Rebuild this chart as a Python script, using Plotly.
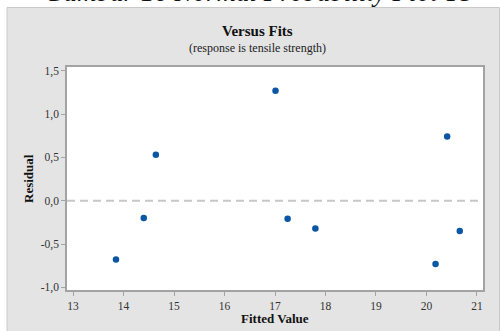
import plotly.graph_objects as go

# Residuals versus fitted values
fitted = [13.85, 14.40, 14.64, 17.01, 17.25, 17.80, 20.18, 20.41, 20.66]
residual = [-0.68, -0.20, 0.53, 1.27, -0.21, -0.32, -0.73, 0.74, -0.35]

x_ticks = [13, 14, 15, 16, 17, 18, 19, 20, 21]
y_ticks = [-1.0, -0.5, 0.0, 0.5, 1.0, 1.5]
y_tick_text = ["-1,0", "-0,5", "0,0", "0,5", "1,0", "1,5"]

W, H = 500, 331
L, R, T, B = 67, 17, 67, 41
PW, PH = W - L - R, H - T - B


def px(x):
    return (x - L) / PW


def py(y):
    return (H - B - y) / PH


SERIF = "Liberation Serif, Times New Roman, serif"

fig = go.Figure()
fig.add_trace(go.Scatter(
    x=fitted, y=residual, mode="markers",
    marker=dict(color="#0b56a4", size=6.5, line=dict(width=0)),
    hoverinfo="x+y",
))

shapes = [
    # grey panel behind the chart
    dict(type="rect", xref="paper", yref="paper",
         x0=px(7), x1=px(499.5), y0=py(332), y1=py(7.5),
         fillcolor="#e4e4e4", line=dict(color="#c9c9c9", width=1), layer="below"),
    # white plotting area
    dict(type="rect", xref="paper", yref="paper", x0=0, x1=1, y0=0, y1=1,
         fillcolor="white", line=dict(width=0), layer="below"),
    # zero reference line
    dict(type="line", xref="paper", yref="y", x0=0, x1=1, y0=0, y1=0,
         line=dict(color="#c6c6c6", width=2, dash="8px,5px"), layer="below"),
]

annotations = [
    dict(text="<i>Gambar 16 Normal Probability Plot TS</i>", xref="paper", yref="paper",
         x=px(258), y=py(9.5), xanchor="center", yanchor="bottom", showarrow=False,
         font=dict(family=SERIF, size=27, color="#111111")),
    dict(text="<b>Versus Fits</b>", xref="paper", yref="paper",
         x=px(257), y=py(31), xanchor="center", yanchor="middle", showarrow=False,
         font=dict(family=SERIF, size=15, color="#111111")),
    dict(text="(response is tensile strength)", xref="paper", yref="paper",
         x=px(257), y=py(48), xanchor="center", yanchor="middle", showarrow=False,
         font=dict(family=SERIF, size=12, color="#222222")),
    dict(text="<b>Fitted Value</b>", xref="paper", yref="paper",
         x=px(275), y=py(318), xanchor="center", yanchor="middle", showarrow=False,
         font=dict(family=SERIF, size=13, color="#111111")),
    dict(text="<b>Residual</b>", xref="paper", yref="paper",
         x=px(28), y=py(179), xanchor="center", yanchor="middle", showarrow=False,
         textangle=-90, font=dict(family=SERIF, size=13, color="#111111")),
]

axis_common = dict(
    showgrid=False, zeroline=False, showline=True, mirror=True,
    linecolor="#a3a3a3", linewidth=1.5,
    ticks="outside", ticklen=4, tickwidth=1, tickcolor="#a3a3a3",
    tickfont=dict(family=SERIF, size=11.5, color="#333333"),
)

fig.update_layout(
    width=W, height=H,
    margin=dict(l=L, r=R, t=T, b=B),
    paper_bgcolor="white", plot_bgcolor="white",
    showlegend=False,
    shapes=shapes, annotations=annotations,
    xaxis=dict(range=[12.88, 21.12], tickvals=x_ticks, **axis_common),
    yaxis=dict(range=[-1.031, 1.543], tickvals=y_ticks, ticktext=y_tick_text, **axis_common),
)

fig.write_html("out.html")
